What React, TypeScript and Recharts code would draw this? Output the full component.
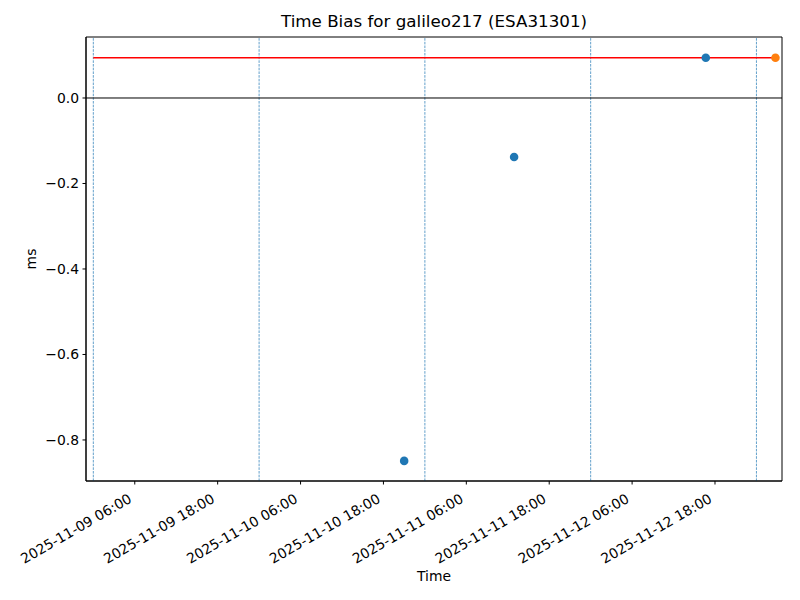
import { ComposedChart, Line, Scatter, XAxis, YAxis, ReferenceLine, ReferenceArea } from "recharts";

const HOUR = 3600 * 1000;
const t0 = Date.UTC(2025, 10, 9, 0, 0);

// measured samples (UTC)
const biasTimes = ["2025-11-10T21:00Z", "2025-11-11T12:55Z", "2025-11-12T16:40Z"];
const biasValues = [-0.849, -0.138, 0.094];
const latestTime = "2025-11-13T02:45Z";
const latestValue = 0.094;
const meanValue = 0.094;
const meanSpan = ["2025-11-09T00:00Z", "2025-11-13T02:45Z"];
const dayLines = ["2025-11-09T00:00Z", "2025-11-10T00:00Z", "2025-11-11T00:00Z", "2025-11-12T00:00Z", "2025-11-13T00:00Z"];
const xTicks = [
  "2025-11-09T06:00Z", "2025-11-09T18:00Z", "2025-11-10T06:00Z", "2025-11-10T18:00Z",
  "2025-11-11T06:00Z", "2025-11-11T18:00Z", "2025-11-12T06:00Z", "2025-11-12T18:00Z",
];
const yTicks = [-0.8, -0.6, -0.4, -0.2, 0.0];

const ms = (s: string) => Date.parse(s);

const xDomain = [t0 - 1.06 * HOUR, t0 + 99.7 * HOUR];
const yDomain = [-0.896, 0.1427];

const biasData = biasTimes.map((t, i) => ({ t: ms(t), v: biasValues[i] }));
const latestData = [{ t: ms(latestTime), v: latestValue }];
const meanData = meanSpan.map((t) => ({ t: ms(t), v: meanValue }));

const FONT = "DejaVu Sans, sans-serif";

const pad = (n: number) => String(n).padStart(2, "0");
const fmtTime = (v: number) => {
  const d = new Date(v);
  return `${d.getUTCFullYear()}-${pad(d.getUTCMonth() + 1)}-${pad(d.getUTCDate())} ${pad(d.getUTCHours())}:${pad(d.getUTCMinutes())}`;
};
const fmtY = (v: number) => (v < 0 ? "\u2212" + Math.abs(v).toFixed(1) : v.toFixed(1));

const XTick = ({ x, y, payload }: any) => {
  const ax = x - 2;
  const ay = y + 15;
  return (
    <text
      x={ax}
      y={ay}
      textAnchor="end"
      fontSize={13.9}
      fontFamily={FONT}
      fill="#000"
      transform={`rotate(-30, ${ax}, ${ay})`}
    >
      {fmtTime(payload.value)}
    </text>
  );
};

const Dot = (color: string) => (props: any) => (
  <circle cx={props.cx} cy={props.cy} r={4.3} fill={color} />
);

export default function App() {
  return (
    <div style={{ position: "absolute", left: 0, top: 0, width: 800, height: 600, background: "#fff", fontFamily: FONT }}>
      <div style={{ position: "absolute", left: 86, width: 696, top: 11, textAlign: "center", fontSize: 16.7, color: "#000" }}>
        Time Bias for galileo217 (ESA31301)
      </div>
      <div style={{ position: "absolute", left: 86, width: 696, top: 568, textAlign: "center", fontSize: 13.9, color: "#000" }}>
        Time
      </div>
      <div
        style={{
          position: "absolute", left: 31, top: 259, fontSize: 13.9, color: "#000",
          transform: "translate(-50%, -50%) rotate(-90deg)", whiteSpace: "nowrap",
        }}
      >
        ms
      </div>
      <ComposedChart width={800} height={600} margin={{ top: 37, right: 18, bottom: 19, left: 26 }}>
        <XAxis
          dataKey="t"
          type="number"
          domain={xDomain}
          ticks={xTicks.map(ms)}
          interval={0}
          tick={<XTick />}
          tickSize={3.5}
          tickMargin={2}
          height={100}
          axisLine={{ stroke: "#000", strokeWidth: 1 }}
          tickLine={{ stroke: "#000", strokeWidth: 1 }}
          allowDataOverflow
        />
        <YAxis
          dataKey="v"
          type="number"
          domain={yDomain}
          ticks={yTicks}
          interval={0}
          tickFormatter={fmtY}
          width={60}
          tickSize={3.5}
          tickMargin={3.5}
          tick={{ fontSize: 13.9, fontFamily: FONT, fill: "#000" }}
          axisLine={{ stroke: "#000", strokeWidth: 1 }}
          tickLine={{ stroke: "#000", strokeWidth: 1 }}
          allowDataOverflow
        />
        <ReferenceArea
          x1={xDomain[0]}
          x2={xDomain[1]}
          y1={yDomain[0]}
          y2={yDomain[1]}
          fill="none"
          fillOpacity={0}
          stroke="#000"
          strokeWidth={1}
          ifOverflow="visible"
        />
        {dayLines.map((d) => (
          <ReferenceLine key={d} x={ms(d)} stroke="#1f77b4" strokeWidth={0.7} strokeDasharray="2.6 1.1" />
        ))}
        <ReferenceLine y={0} stroke="#000" strokeWidth={1} />
        <Line data={meanData} dataKey="v" stroke="#ff0000" strokeWidth={1.5} dot={false} isAnimationActive={false} />
        <Scatter data={biasData} dataKey="v" fill="#1f77b4" shape={Dot("#1f77b4")} isAnimationActive={false} />
        <Scatter data={latestData} dataKey="v" fill="#ff7f0e" shape={Dot("#ff7f0e")} isAnimationActive={false} />
      </ComposedChart>
    </div>
  );
}
